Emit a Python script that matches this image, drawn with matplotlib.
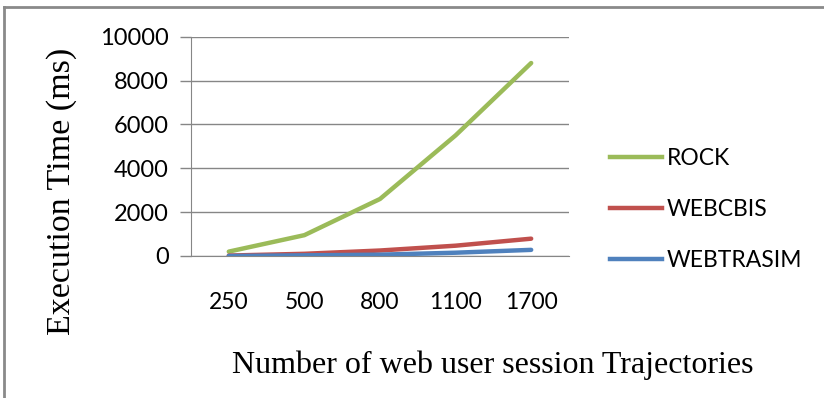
import matplotlib
matplotlib.use('Agg')
import matplotlib.pyplot as plt
from matplotlib.lines import Line2D
import numpy as np

# Trajectory counts and execution times (ms)
sessions = ['250', '500', '800', '1100', '1700']
rock = [200, 950, 2600, 5500, 8800]
webcbis = [20, 100, 250, 470, 790]
webtrasim = [0, 30, 60, 150, 280]

series = [('ROCK', rock, '#9BBB59'),
          ('WEBCBIS', webcbis, '#C0504D'),
          ('WEBTRASIM', webtrasim, '#4F81BD')]

sans = ['Lato', 'DejaVu Sans']
serif = ['Liberation Serif', 'DejaVu Serif']

fig = plt.figure(figsize=(8.24, 3.98), dpi=100)
ax = fig.add_axes([0.2318, 0.3568, 0.4587, 0.551])

x = np.arange(len(sessions))
for name, vals, col in series:
    ax.plot(x, vals, color=col, lw=3.2, solid_capstyle='round', label=name, zorder=3)

ax.set_xlim(-0.5, len(sessions) - 0.5)
ax.set_ylim(0, 10000)
ax.set_yticks(np.arange(0, 10001, 2000))
ax.set_xticks(x)
ax.set_xticklabels(sessions, family=sans, fontsize=16.5)
ax.set_yticklabels([str(v) for v in range(0, 10001, 2000)], family=sans, fontsize=17)
ax.tick_params(axis='x', length=0, pad=26)
ax.tick_params(axis='y', length=8, color='#868686', width=1, pad=8)
ax.grid(axis='y', color='#868686', lw=1)
ax.set_axisbelow(True)
for s in ['top', 'right']:
    ax.spines[s].set_visible(False)
for s in ['left', 'bottom']:
    ax.spines[s].set_color('#868686')

fig.text(0.075, 0.518, 'Execution Time (ms)', rotation=90, ha='center', va='center',
         family=serif, fontsize=24.5)
fig.text(0.598, 0.083, 'Number of web user session Trajectories', ha='center', va='center',
         family=serif, fontsize=23)

# legend placed by hand to the right of the plot
handles = [Line2D([0], [0], color=c, lw=3.2) for _, _, c in series]
leg = fig.legend(handles, [n for n, _, _ in series], loc='center left',
                 bbox_to_anchor=(0.715, 0.474), frameon=False, handlelength=2.3,
                 handletextpad=0.2, labelspacing=1.3, prop={'family': sans, 'size': 16.5})

# frame lines along top and left edge
fig.add_artist(Line2D([0.005, 0.005], [0, 0.983], color='#8a8a8a', lw=2, transform=fig.transFigure))
fig.add_artist(Line2D([0.005, 1], [0.983, 0.983], color='#8a8a8a', lw=2, transform=fig.transFigure))

fig.savefig('out.png', dpi=100)
